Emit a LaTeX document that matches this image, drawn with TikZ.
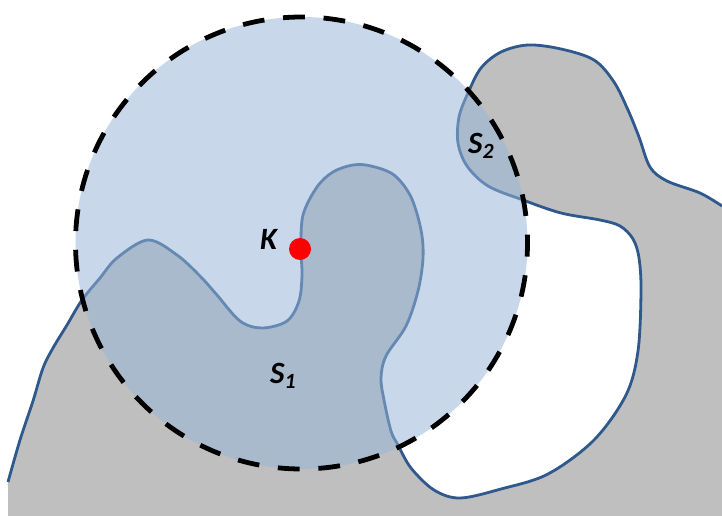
\documentclass[tikz,border=0pt]{standalone}
\usepackage{fontspec}
\setmainfont{Carlito}
\begin{document}
\begin{tikzpicture}[x=1pt,y=-1pt,
  region/.style={fill=regiongray},
  boundary/.style={draw=edgeblue,line width=2.8pt,line join=round},
  disc/.style={fill=discblue,fill opacity=0.53},
  discedge/.style={draw=black,line width=4.8pt,dash pattern=on 21.8pt off 18.77pt,dash phase=8.2pt},
  lbl/.style={inner sep=0pt,font=\fontsize{31}{31}\selectfont\bfseries\itshape,text=black},
  dot/.style={circle,fill=red,inner sep=0pt,minimum size=22pt}]
\definecolor{regiongray}{RGB}{191,191,191}
\definecolor{edgeblue}{RGB}{47,88,140}
\definecolor{discblue}{RGB}{151,182,216}
\useasboundingbox (0,0) rectangle (722,516);
\def\bcurve{(8,482) (20,440) (33,401) (43,368) (53,348) (67,325) (82,300) (100,278) (117,258) (148,240) (177,255) (200,276) (217,295) (240,321) (262,328) (287,321) (299,301) (302,275) (301,249) (303,215) (317,187) (333,172) (353,165) (371,166) (394,175) (411,197) (421,230) (423,258) (418,291) (406,326) (386,356) (381,378) (384,400) (391,431) (398,445) (411,468) (434,490) (460,498) (501,489) (548,474) (594,440) (626,395) (638,351) (641,291) (639,258) (633,239) (620,226) (600,220) (561,213) (523,200) (488,186) (467,166) (458,143) (459,117) (468,93) (481,68) (501,52) (528,45) (561,49) (594,60) (614,82) (628,110) (639,137) (650,167) (667,181) (700,193) (722,206)}
% grey region
\path[region] plot[smooth,tension=0.55] coordinates {\bcurve} -- (722,516) -- (8,516) -- cycle;
% its boundary
\draw[boundary] plot[smooth,tension=0.55] coordinates {\bcurve};
% translucent disc
\coordinate (c) at (301.5,243);
\path[disc] (c) circle[radius=226];
\draw[discedge] (c) circle[radius=226];
% point and labels
\node[dot] (k) at (300,249) {};
\node[lbl,anchor=base west] (klabel) at (260,249) {K};
\node[lbl,anchor=base west] (s1) at (270,383) {S\textsubscript{1}};
\node[lbl,anchor=base west] (s2) at (468,153) {S\textsubscript{2}};
\end{tikzpicture}
\end{document}
